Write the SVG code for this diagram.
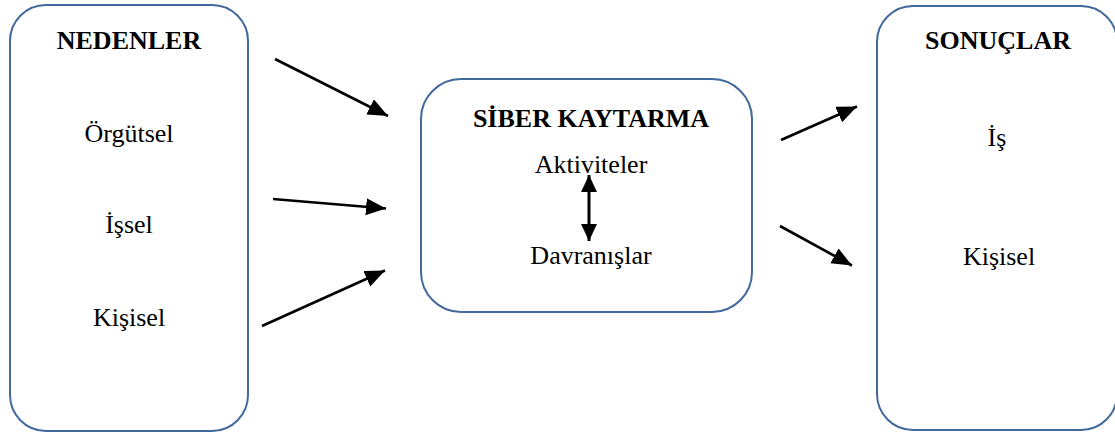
<svg xmlns="http://www.w3.org/2000/svg" width="1115" height="432" viewBox="0 0 1115 432">
<style>
.box{fill:#ffffff;stroke:#41699c;stroke-width:2}
.t{font-family:"Liberation Serif","Times New Roman",serif;font-size:26px;fill:#000;text-anchor:middle}
.h{font-weight:bold}
.c{stroke:#000;stroke-width:2.6;fill:none;marker-end:url(#ah)}
</style>
<defs>
<marker id="ah" markerUnits="userSpaceOnUse" markerWidth="22" markerHeight="18" refX="20" refY="8.5" orient="auto">
<path d="M0,0 L20,8.5 L0,17 z" fill="#000"/>
</marker>
<marker id="ah2" markerUnits="userSpaceOnUse" markerWidth="20" markerHeight="18" refX="17" refY="8" orient="auto-start-reverse">
<path d="M0,0 L17,8 L0,16 z" fill="#000"/>
</marker>
</defs>
<rect width="1115" height="432" fill="#ffffff"/>
<g id="nedenler">
<rect class="box" x="10" y="5" width="238" height="426" rx="36" ry="36"/>
<text class="t h" x="129" y="49">NEDENLER</text>
<text class="t" x="129" y="142">Örgütsel</text>
<text class="t" x="129" y="233">İşsel</text>
<text class="t" x="129" y="326">Kişisel</text>
</g>
<g id="siber-kaytarma">
<rect class="box" x="421" y="79" width="331" height="233" rx="40" ry="40"/>
<text class="t h" x="591" y="127">SİBER KAYTARMA</text>
<text class="t" x="591" y="173">Aktiviteler</text>
<text class="t" x="591" y="264">Davranışlar</text>
</g>
<g id="sonuclar">
<rect class="box" x="877" y="6" width="240" height="424" rx="36" ry="36"/>
<text class="t h" x="998" y="49">SONUÇLAR</text>
<text class="t" x="997" y="146">İş</text>
<text class="t" x="999" y="265">Kişisel</text>
</g>
<g id="connectors">
<line class="c" x1="275" y1="59" x2="388" y2="116"/>
<line class="c" x1="273" y1="199" x2="386" y2="208.5"/>
<line class="c" x1="262" y1="326" x2="385" y2="270.5"/>
<line class="c" x1="781" y1="140" x2="857" y2="106.5"/>
<line class="c" x1="780" y1="226" x2="852" y2="265.5"/>
<line x1="589" y1="175" x2="589" y2="241" stroke="#000" stroke-width="3" marker-start="url(#ah2)" marker-end="url(#ah2)"/>
</g>
</svg>
